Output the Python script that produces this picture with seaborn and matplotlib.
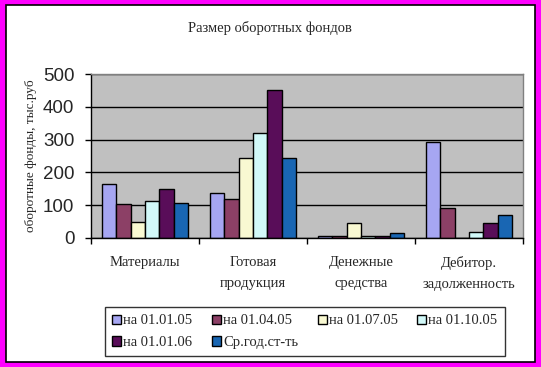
import pandas as pd
import seaborn as sns
import matplotlib.pyplot as plt
from matplotlib.patches import Rectangle

# chart data
categories = ['Материалы', 'Готовая\nпродукция', 'Денежные\nсредства', 'Дебитор.\nзадолженность']
series = ['на 01.01.05', 'на 01.04.05', 'на 01.07.05', 'на 01.10.05', 'на 01.01.06', 'Ср.год.ст-ть']
v_0101_05 = [165, 137, 6, 294]
v_0104_05 = [104, 119, 5, 92]
v_0107_05 = [49, 244, 46, 0]
v_0110_05 = [113, 321, 6, 19]
v_0101_06 = [149, 451, 5, 46]
v_avg = [107, 244, 16, 71]
colors = ['#9999FF', '#993366', '#FFFFCC', '#CCFFFF', '#660066', '#0066CC']

values = [v_0101_05, v_0104_05, v_0107_05, v_0110_05, v_0101_06, v_avg]
rows = []
for s, vals in zip(series, values):
    for c, v in zip(categories, vals):
        rows.append({'cat': c, 'series': s, 'value': v})
df = pd.DataFrame(rows)

sns.set_style('white')
serif = ['Liberation Serif', 'DejaVu Serif']
plt.rcParams['font.family'] = serif

fig = plt.figure(figsize=(5.41, 3.67), dpi=100)
fig.patch.set_facecolor('#FF00FF')
W, H = 541, 367
# white chart area with black border
fig.patches.append(Rectangle((5.5 / W, 5.5 / H), 529 / W, 356 / H, transform=fig.transFigure,
                             facecolor='white', edgecolor='black', linewidth=1.2, zorder=-10))

ax = fig.add_axes([91 / W, 1 - 238 / H, 432 / W, 164 / H])
ax.set_facecolor('#C0C0C0')
sns.barplot(data=df, x='cat', y='value', hue='series', palette=colors, width=0.8,
            edgecolor='black', linewidth=1, ax=ax, legend=True)

ax.set_ylim(0, 500)
ax.set_xlim(-0.5, 3.5)
ax.set_yticks(range(0, 501, 100))
ax.yaxis.grid(True, color='black', linewidth=1)
ax.set_axisbelow(True)
for side in ['top', 'right']:
    ax.spines[side].set_color('#808080')
for side in ['left', 'bottom']:
    ax.spines[side].set_color('black')
for sp in ax.spines.values():
    sp.set_linewidth(1)
    sp.set_visible(True)

ax.tick_params(axis='y', left=True, length=4, width=1, pad=8, color='black')
for lbl in ax.get_yticklabels():
    lbl.set_family('Liberation Sans')
    lbl.set_fontsize(13.5)
ax.set_xticks([0, 1, 2, 3])
ax.set_xticklabels(categories, fontsize=10.5, linespacing=1.8)
ax.set_xticks([-0.5, 0.5, 1.5, 2.5, 3.5], minor=True)
ax.tick_params(axis='x', which='major', bottom=False, length=0, pad=13)
ax.tick_params(axis='x', which='minor', bottom=True, length=4, width=1, color='black')
ax.set_xlabel('')
ax.set_ylabel('оборотные фонды, тыс.руб', fontsize=9.5, labelpad=4)

fig.text(270 / W, 1 - 28 / H, 'Размер оборотных фондов', ha='center', va='center', fontsize=10.5)

handles, labels = ax.get_legend_handles_labels()
ax.get_legend().remove()
# legend fills column by column; reorder so rows read left to right
order = [0, 4, 1, 5, 2, 3]
leg = fig.legend([handles[i] for i in order], [labels[i] for i in order], ncol=4, loc='upper left',
                 bbox_to_anchor=(105 / W, 1 - 307 / H), borderaxespad=0, fontsize=10.5,
                 frameon=True, fancybox=False, edgecolor='black',
                 handlelength=0.6, handleheight=0.6, handletextpad=0.15,
                 columnspacing=1.35, borderpad=0.5, labelspacing=0.6)
leg.get_frame().set_linewidth(1)

fig.savefig('out.png', dpi=100, facecolor=fig.get_facecolor())
